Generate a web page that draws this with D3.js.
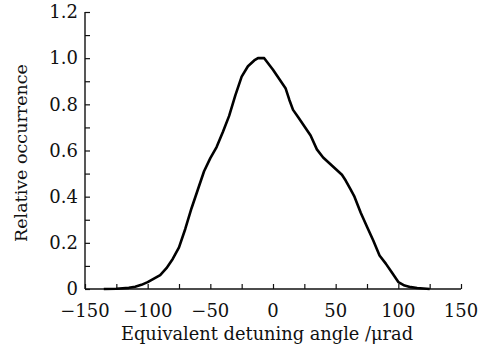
<!DOCTYPE html>
<html>
<head>
<meta charset="utf-8">
<script src="https://cdn.jsdelivr.net/npm/d3@7"></script>
<style>
  body { margin: 0; background: #fff; }
  text { font-family: "DejaVu Serif", serif; fill: #111; }
</style>
</head>
<body>
<div id="chart"></div>
<script>
// distribution
var angle = [-135, -125, -115, -110, -105, -100, -95, -90, -85, -80, -75, -70, -65, -60,
  -55, -50, -45, -40, -35, -30, -25, -20, -15, -12, -7, 0, 5, 10, 13, 16, 20, 25, 30,
  35, 40, 45, 50, 55, 58, 62, 65, 70, 75, 80, 85, 90, 95, 100, 105, 110, 115, 120, 125];
var occurrence = [0, 0.001, 0.005, 0.01, 0.018, 0.03, 0.045, 0.06, 0.09, 0.13, 0.18, 0.26,
  0.35, 0.43, 0.51, 0.567, 0.615, 0.68, 0.75, 0.84, 0.92, 0.965, 0.99, 1.0, 1.0, 0.95,
  0.91, 0.87, 0.82, 0.776, 0.745, 0.705, 0.665, 0.605, 0.57, 0.545, 0.52, 0.495, 0.47,
  0.43, 0.40, 0.33, 0.27, 0.21, 0.145, 0.11, 0.07, 0.03, 0.015, 0.008, 0.004, 0.002, 0];

var xTicks = [-150, -100, -50, 0, 50, 100, 150];
var yTicks = [0, 0.2, 0.4, 0.6, 0.8, 1.0, 1.2];

var total_width = 503, total_height = 347;
var margin = {top: 12, right: 42, bottom: 58, left: 85},
    width = total_width - margin.left - margin.right,
    height = total_height - margin.top - margin.bottom;

var svg = d3.select("#chart").append("svg")
    .attr("width", total_width)
    .attr("height", total_height)
  .append("g")
    .attr("transform", "translate(" + margin.left + "," + margin.top + ")");

var x = d3.scaleLinear().domain([-150, 150]).range([0, width]);
var y = d3.scaleLinear().domain([0, 1.2]).range([height, 0]);

// minor ticks (inward)
svg.append("g")
    .attr("transform", "translate(0," + height + ")")
    .call(d3.axisTop(x).tickValues(d3.range(-150, 151, 25)).tickSize(5).tickFormat(""))
    .call(g => g.select(".domain").remove());
svg.append("g")
    .call(d3.axisRight(y).tickValues(d3.range(0, 1.21, 0.1)).tickSize(5).tickFormat(""))
    .call(g => g.select(".domain").remove());
svg.selectAll(".tick line").attr("stroke", "#111").attr("stroke-width", 1.2);

// axis lines
svg.append("line").attr("x1", 0).attr("x2", width).attr("y1", height).attr("y2", height)
    .attr("stroke", "#111").attr("stroke-width", 1.4);
svg.append("line").attr("x1", 0).attr("x2", 0).attr("y1", 0).attr("y2", height)
    .attr("stroke", "#111").attr("stroke-width", 1.4);

// tick labels
svg.selectAll(".xlab").data(xTicks).enter().append("text")
    .attr("x", d => x(d))
    .attr("y", height + 28)
    .attr("text-anchor", "middle")
    .attr("font-size", 18)
    .text(d => d < 0 ? "\u2212" + (-d) : d);

svg.selectAll(".ylab").data(yTicks).enter().append("text")
    .attr("x", -7)
    .attr("y", d => y(d))
    .attr("dy", "0.35em")
    .attr("text-anchor", "end")
    .attr("font-size", 18)
    .text(d => d === 0 ? "0" : d.toFixed(1));

// axis titles
svg.append("text")
    .attr("x", x(0) - 6)
    .attr("y", height + 51)
    .attr("text-anchor", "middle")
    .attr("font-size", 17.8)
    .text("Equivalent detuning angle /\u03bcrad");

svg.append("text")
    .attr("transform", "rotate(-90)")
    .attr("x", -141)
    .attr("y", -58)
    .attr("text-anchor", "middle")
    .attr("font-size", 17.5)
    .text("Relative occurrence");

// curve
var pts = angle.map((a, i) => ({a: a, v: occurrence[i]}));
svg.append("path")
    .datum(pts)
    .attr("fill", "none")
    .attr("stroke", "#000")
    .attr("stroke-width", 2.6)
    .attr("stroke-linejoin", "round")
    .attr("d", d3.line()
      .x(d => x(d.a))
      .y(d => y(d.v)));
</script>
</body>
</html>
